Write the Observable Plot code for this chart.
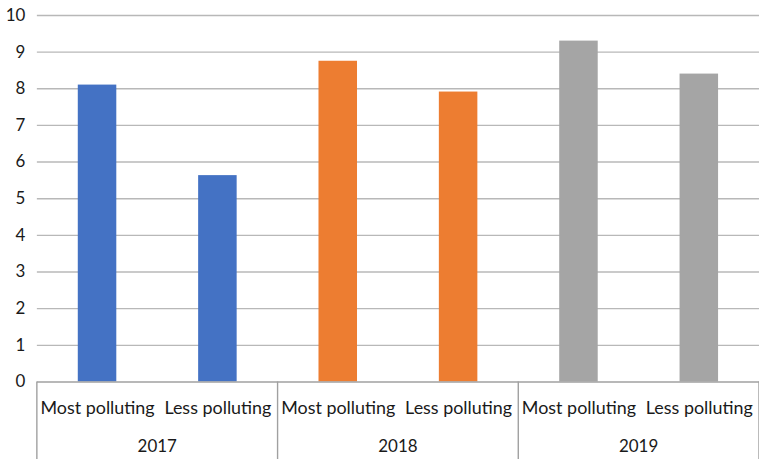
<!DOCTYPE html>
<html>
<head>
<meta charset="utf-8">
<script src="https://cdn.jsdelivr.net/npm/d3@7"></script>
<script src="https://cdn.jsdelivr.net/npm/@observablehq/plot@0.6"></script>
<style>
  html, body { margin: 0; padding: 0; background: #fff; overflow: hidden; }
  #chart { width: 759px; height: 461px; overflow: hidden; }
</style>
</head>
<body>
<div id="chart"></div>
<script>
const years = ["2017", "2018", "2019"];
const types = ["Most polluting", "Less polluting"];
const mostPolluting = [8.1, 8.75, 9.3];
const lessPolluting = [5.63, 7.91, 8.4];
const yearColors = ["#4472C4", "#ED7D31", "#A5A5A5"];
const yTicks = [0, 1, 2, 3, 4, 5, 6, 7, 8, 9, 10];

const data = years.flatMap((yr, i) => [
  {year: yr, type: types[0], key: yr + "|" + types[0], value: mostPolluting[i], color: yearColors[i]},
  {year: yr, type: types[1], key: yr + "|" + types[1], value: lessPolluting[i], color: yearColors[i]}
]);
const keys = data.map(d => d.key);

const font = "Lato, 'Open Sans', sans-serif";

const chart = Plot.plot({
  width: 762,
  height: 461,
  marginLeft: 37,
  marginRight: 0,
  marginTop: 15,
  marginBottom: 78,
  style: {fontFamily: font, fontSize: "17px", color: "#1a1a1a", background: "#fff"},
  x: {domain: keys, paddingInner: 0.68, paddingOuter: 0.34, round: false, axis: null},
  y: {domain: [0, 10], axis: null},
  marks: [
    Plot.ruleY(yTicks.filter(t => t > 0), {stroke: "#b8b8b8", strokeWidth: 1.4}),
    Plot.barY(data, {x: "key", y: "value", fill: "color"}),
    Plot.ruleY([0], {stroke: "#a0a0a0", strokeWidth: 1.4}),
    Plot.axisY({ticks: yTicks, tickSize: 0, tickPadding: 12, fontSize: 17, fontFamily: font, label: null}),
    Plot.axisX({tickSize: 0, tickPadding: 19, fontSize: 18, fontFamily: font, label: null,
      tickFormat: k => k.split("|")[1]})
  ]
});

document.getElementById("chart").appendChild(chart);

// Group separators and year labels from the x scale
const xs = chart.scale("x");
const step = (xs.range[1] - xs.range[0]) / keys.length;
const svg = d3.select(chart);
const g = svg.append("g");
const edges = years.map(yr => xs.apply(yr + "|" + types[0]) - xs.paddingOuter * step);
edges.push(xs.range[1]);
const y0 = chart.scale("y").apply(0);
edges.forEach(x => {
  g.append("line").attr("x1", x).attr("x2", x).attr("y1", y0).attr("y2", 461)
    .attr("stroke", "#a0a0a0").attr("stroke-width", 1.4);
});
years.forEach((yr, i) => {
  g.append("text").attr("x", (edges[i] + edges[i + 1]) / 2).attr("y", 454)
    .attr("text-anchor", "middle").attr("font-family", font).attr("font-size", 17)
    .attr("fill", "#1a1a1a").text(yr);
});
</script>
</body>
</html>
